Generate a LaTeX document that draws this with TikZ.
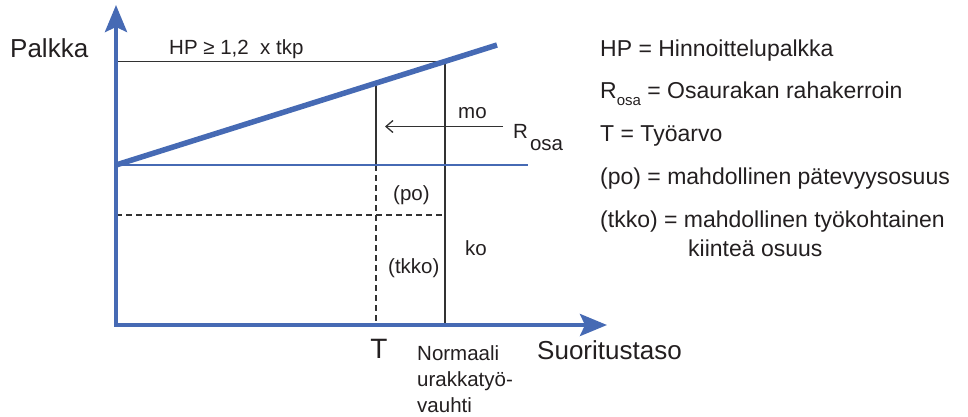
\documentclass[tikz,border=0pt]{standalone}
\usepackage{fontspec}
\setmainfont{Liberation Sans}
\usetikzlibrary{arrows.meta}
\definecolor{axisBlue}{RGB}{70,106,180}
\definecolor{guideGray}{RGB}{50,50,50}
\definecolor{textGray}{RGB}{35,31,32}
\newcommand{\bigFont}{\fontsize{26}{30}\selectfont}
\newcommand{\legendFont}{\fontsize{23}{27}\selectfont}
\newcommand{\labelFont}{\fontsize{20.5}{26}\selectfont}
\newcommand{\subFont}{\fontsize{15}{15}\selectfont}
\newcommand{\legendX}{600}

\begin{document}
\begin{tikzpicture}[x=1pt, y=-1pt,
    axis/.style={axisBlue, line width=4pt},
    guide/.style={guideGray, line width=1.3pt},
    dashguide/.style={guide, dash pattern=on 6pt off 4pt},
    lbl/.style={inner sep=0pt, anchor=base west, text=textGray}]
\useasboundingbox (0,0) rectangle (968,416);
\coordinate (origin) at (116,325);
\coordinate (ytop) at (116,5);
\coordinate (xend) at (607,325);
\coordinate (base) at (116,165);
\coordinate (baseEnd) at (528,165);
\coordinate (slopeEnd) at (497,45);
\coordinate (hpAxis) at (116,61.5);
\coordinate (hpPoint) at (445,61.5);
\coordinate (hpFoot) at (445,325);
\coordinate (tPoint) at (376,83.1);
\coordinate (tBase) at (376,165);
\coordinate (tFoot) at (376,325);
\coordinate (poLeft) at (116,215);
\coordinate (poRight) at (443,215);
\coordinate (rTail) at (503,126.5);
\coordinate (rTip) at (385,126.5);

\draw[guide] (hpAxis) -- (hpPoint) -- (hpFoot);
\draw[guide] (tPoint) -- (tBase);
\draw[dashguide] (tBase) -- (tFoot);
\draw[dashguide] (poLeft) -- (poRight);
\draw[guide, -{Straight Barb[length=7pt,width=12pt]}] (rTail) -- (rTip);
\draw[axisBlue, line width=2.5pt] (base) -- (baseEnd);
\draw[axisBlue, line width=5.5pt] (base) -- (slopeEnd);
\draw[axis, {Stealth[length=27pt,width=22pt,inset=5pt]}-{Stealth[length=27pt,width=22pt,inset=5pt]}]
    (ytop) |- (xend);

\node[lbl, font=\bigFont] (palkka) at (10,57) {Palkka};
\node[lbl, font=\bigFont] (suoritus) at (537,359) {Suoritustaso};
\node[lbl, font=\labelFont] (hpRule) at (169,54) {HP ≥ 1,2\ \ x tkp};
\node[lbl, font=\labelFont] (mo) at (458,118) {mo};
\node[lbl, font=\labelFont] (rosa) at (513,138) {R\hspace{2pt}\raisebox{-12pt}{osa}};
\node[lbl, font=\labelFont] (po) at (393,200) {(po)};
\node[lbl, font=\labelFont] (tkko) at (388,273) {(tkko)};
\node[lbl, font=\labelFont] (ko) at (465,255) {ko};
\node[inner sep=0pt, anchor=base, text=textGray, font=\fontsize{28}{32}\selectfont] (tval) at (379,358) {T};
\node[lbl, font=\labelFont] (normaali) at (417,360) {Normaali};
\node[lbl, font=\labelFont] (urakka) at (417,386) {urakkatyö-};
\node[lbl, font=\labelFont] (vauhti) at (417,412) {vauhti};

\node[lbl, font=\legendFont] (legHp) at (\legendX,56) {HP = Hinnoittelupalkka};
\node[lbl, font=\legendFont] (legRosa) at (\legendX,98) {R\raisebox{-7pt}{\subFont osa} = Osaurakan rahakerroin};
\node[lbl, font=\legendFont] (legT) at (\legendX,141) {T = Työarvo};
\node[lbl, font=\legendFont] (legPo) at (\legendX,184) {(po) = mahdollinen pätevyysosuus};
\node[lbl, font=\legendFont] (legTkko) at (\legendX,227) {(tkko) = mahdollinen työkohtainen};
\node[lbl, font=\legendFont] (legTkko2) at (688,256) {kiinteä osuus};
\end{tikzpicture}
\end{document}
